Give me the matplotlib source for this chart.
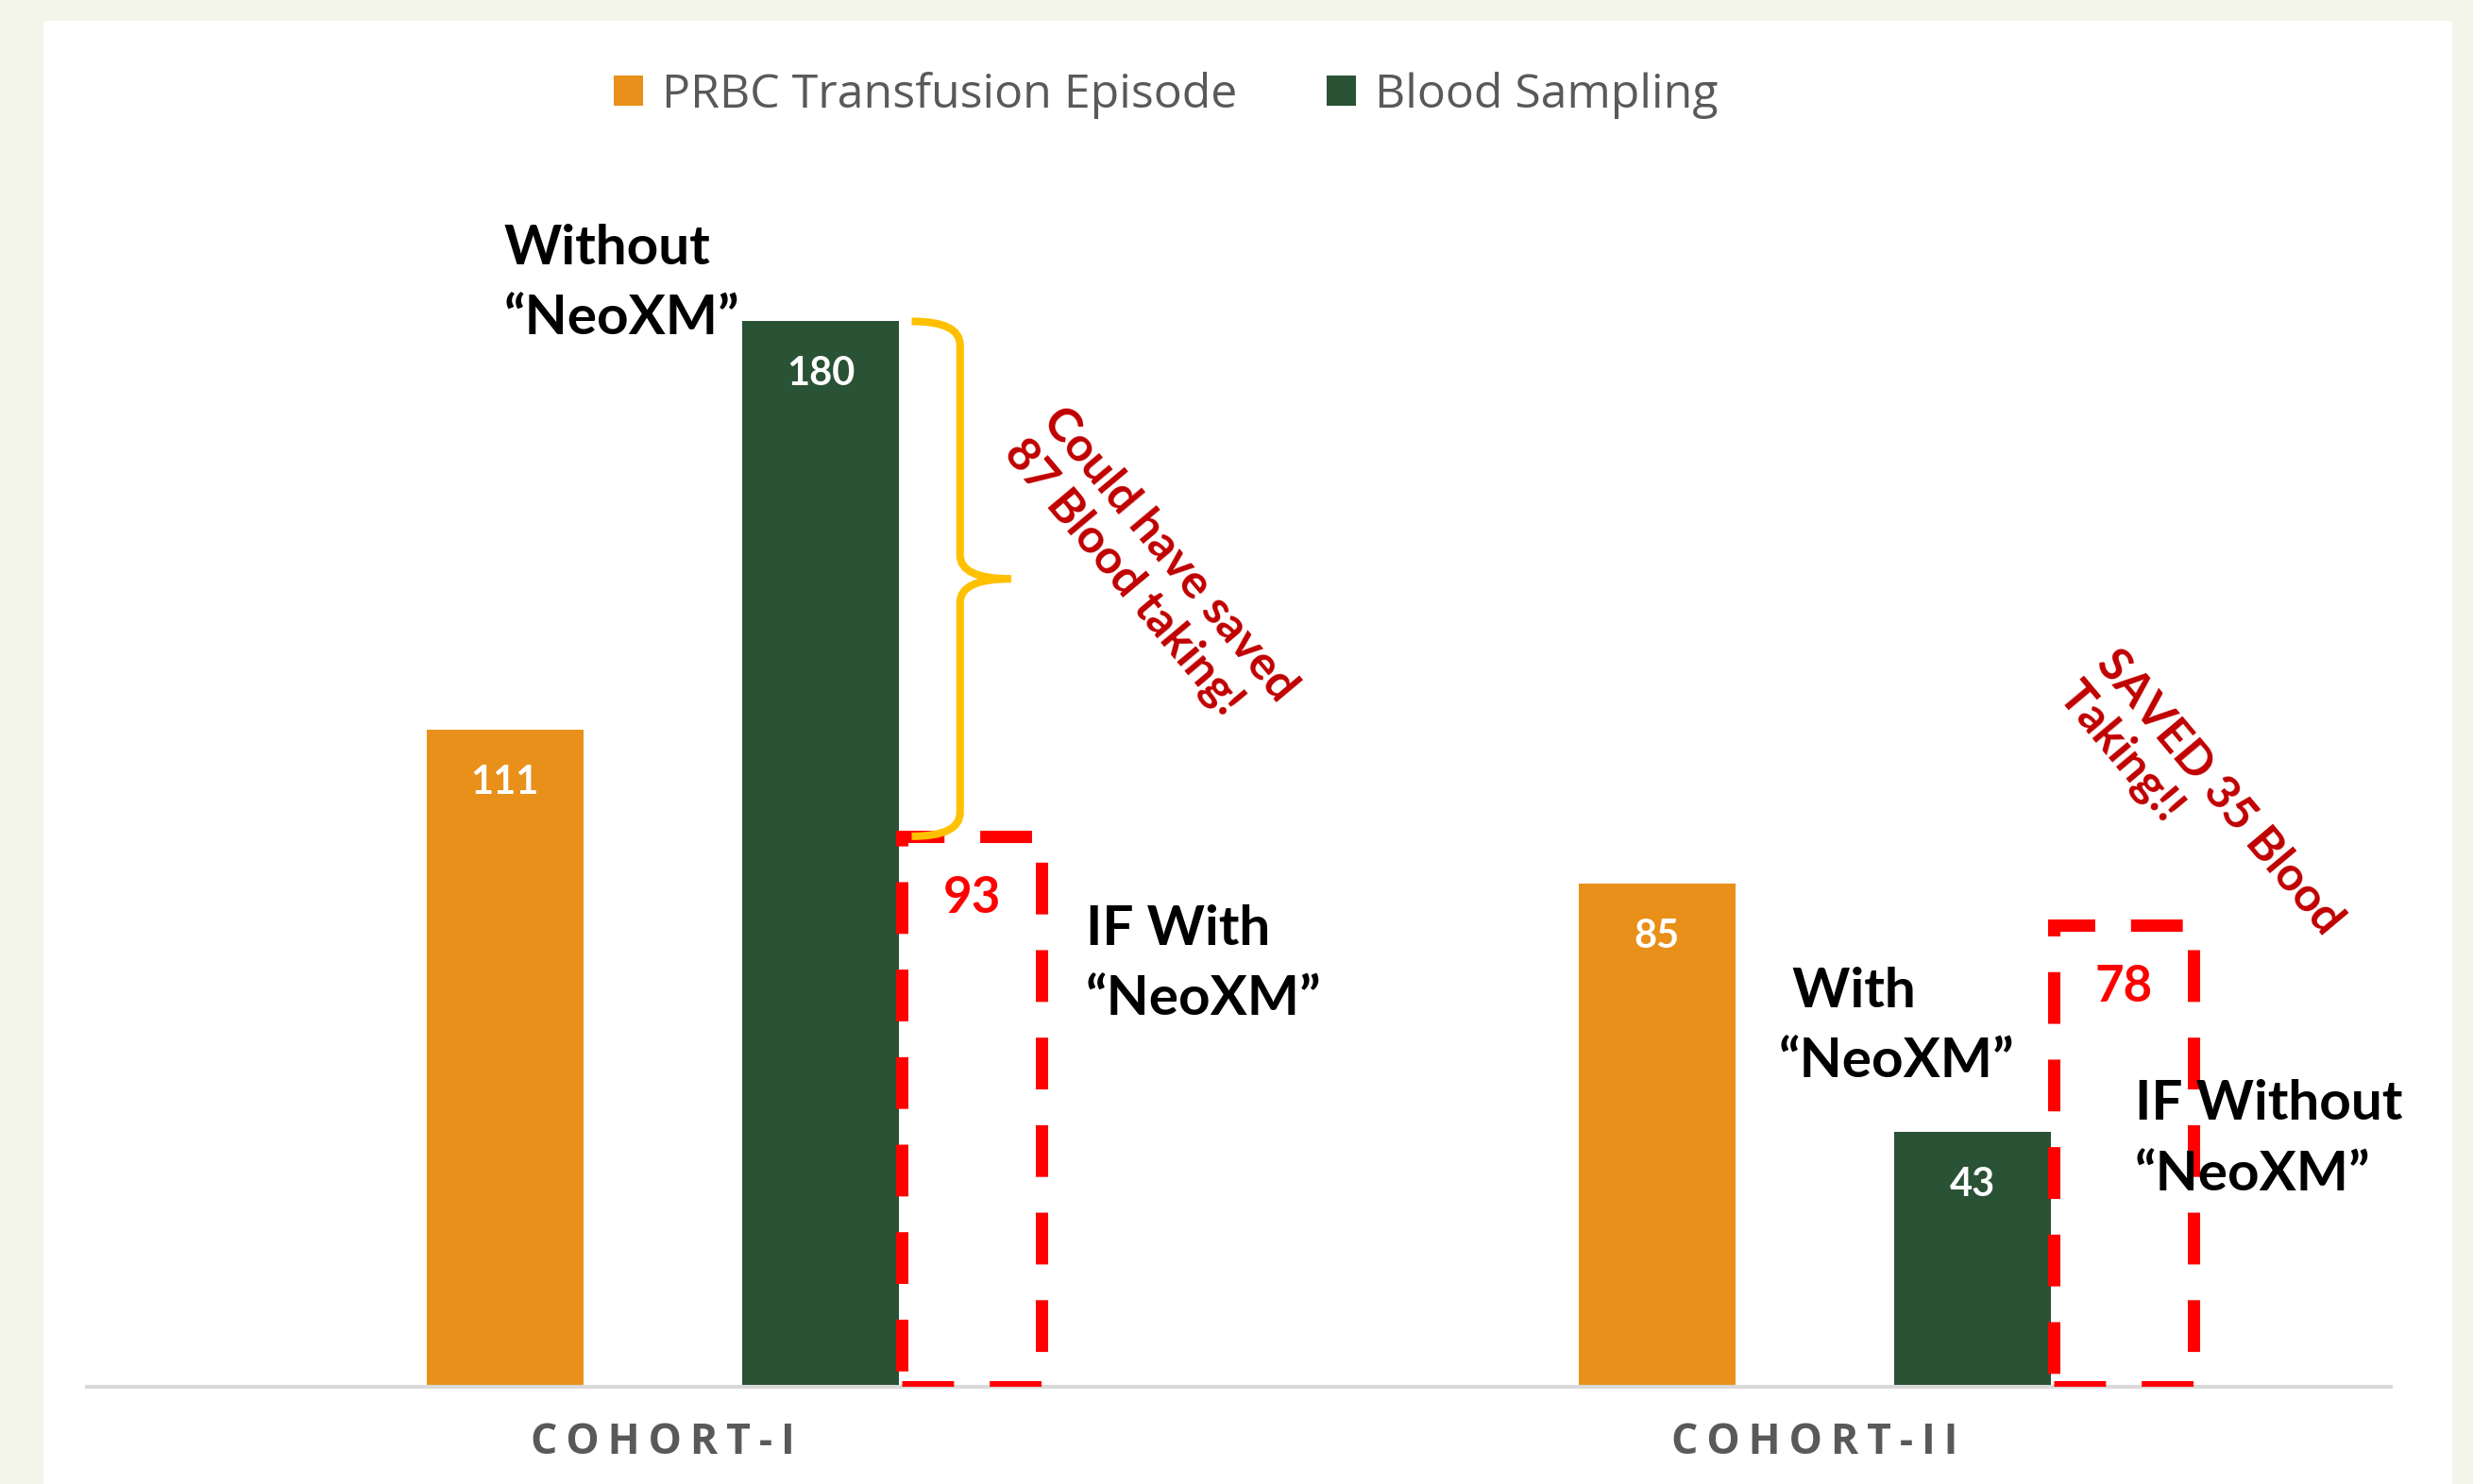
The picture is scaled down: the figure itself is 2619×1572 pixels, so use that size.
import matplotlib.pyplot as plt
from matplotlib.patches import Rectangle, PathPatch
from matplotlib.path import Path
import numpy as np

# data
cohorts = ['COHORT-I', 'COHORT-II']
series_names = ['PRBC Transfusion Episode', 'Blood Sampling']
prbc = [111, 85]
sampling = [180, 43]
what_if = [93, 78]   # dashed "what if" bars next to blood sampling

orange = '#e8901a'
green = '#2a5235'
red = '#ff0000'
dark_red = '#c00000'
gold = '#ffc000'
grey = '#595959'

plt.rcParams['font.family'] = ['Lato', 'DejaVu Sans']

W, H = 2619, 1572
fig = plt.figure(figsize=(W / 100, H / 100), dpi=100, facecolor='#f3f4ea')
fig.patches.append(Rectangle((46 / W, 0), (2597 - 46) / W, 1 - 22 / H,
                             transform=fig.transFigure, facecolor='white',
                             edgecolor='none', zorder=-10))

ax = fig.add_axes([92 / W, 103 / H, 2440 / W, 1254 / H])
ax.set_facecolor('none')

x = np.arange(len(cohorts))
w = 0.136
off = 0.137
ax.bar(x - off, prbc, w, color=orange, label=series_names[0], zorder=2)
ax.bar(x + off, sampling, w, color=green, label=series_names[1], zorder=2)
ax.bar(x + 0.268, what_if, 0.121, fill=False, edgecolor=red, linewidth=9.4,
       linestyle=(0, (4.2, 2.9)), zorder=3)

for xs, vals in ((x - off, prbc), (x + off, sampling)):
    for xi, v in zip(xs, vals):
        ax.annotate(str(v), (xi, v), xytext=(0, -40), textcoords='offset points',
                    ha='center', va='center', color='white', fontsize=30,
                    fontweight='bold', zorder=4)
for xi, v in zip(x + 0.268, what_if):
    ax.annotate(str(v), (xi, v), xytext=(0, -47), textcoords='offset points',
                ha='center', va='center', color=red, fontsize=38,
                fontweight='bold', zorder=4)

# curly brace spanning the saved blood samplings in cohort I
x0, xs_, xt = 0.216, 0.258, 0.302
ytop, ybot = sampling[0], what_if[0]
ymid = (ytop + ybot) / 2
r = 4
verts = [(x0, ytop), (xs_, ytop), (xs_, ytop - r),
         (xs_, ymid + r),
         (xs_, ymid), (xt, ymid),
         (xs_, ymid), (xs_, ymid - r),
         (xs_, ybot + r),
         (xs_, ybot), (x0, ybot)]
codes = [Path.MOVETO, Path.CURVE3, Path.CURVE3, Path.LINETO,
         Path.CURVE3, Path.CURVE3, Path.CURVE3, Path.CURVE3,
         Path.LINETO, Path.CURVE3, Path.CURVE3]
ax.add_patch(PathPatch(Path(verts, codes), facecolor='none', edgecolor=gold,
                       linewidth=5.8, zorder=3))

# annotations (y = baseline of the last line)
txt = dict(fontsize=42, fontweight='bold', color='black', va='baseline',
           ha='left', linespacing=1.5)
ax.text(-0.138, 177.8, 'Without\n\u201cNeoXM\u201d', **txt)
ax.text(0.367, 62.8, 'IF With\n\u201cNeoXM\u201d', **txt)
ax.text(0.969, 52.3, ' With\n\u201cNeoXM\u201d', **txt)
ax.text(1.278, 33.2, 'IF Without\n\u201cNeoXM\u201d', **txt)

rot = dict(fontsize=36, fontweight='bold', color=dark_red, rotation=-50,
           rotation_mode='anchor', ha='center', va='center',
           multialignment='left', linespacing=1.2)
ax.text(0.423, 138, 'Could have saved\n87 Blood taking!', **rot)
ax.text(1.334, 97.8, 'SAVED 35 Blood\nTaking!!', **rot)

ax.set_xlim(-0.5, 1.5)
ax.set_ylim(0, 200)
ax.set_yticks([])
for s in ('top', 'right', 'left'):
    ax.spines[s].set_visible(False)
ax.spines['bottom'].set_color('#d9d9d9')
ax.spines['bottom'].set_linewidth(2.9)
ax.set_xticks(x)
ax.set_xticklabels(['\u2009'.join(c) for c in cohorts],
                   family=['Open Sans', 'DejaVu Sans'], fontweight='bold')
ax.tick_params(axis='x', length=0, pad=27, labelsize=32, labelcolor=grey)

ax.legend(loc='center', bbox_to_anchor=(0.4716, 0.936),
          bbox_transform=fig.transFigure, ncol=2, frameon=False,
          prop={'family': 'Open Sans', 'size': 36}, labelcolor=grey,
          handlelength=0.62, handleheight=0.62, handletextpad=0.4,
          columnspacing=1.9)

fig.savefig('out.png', dpi=100, facecolor=fig.get_facecolor())
